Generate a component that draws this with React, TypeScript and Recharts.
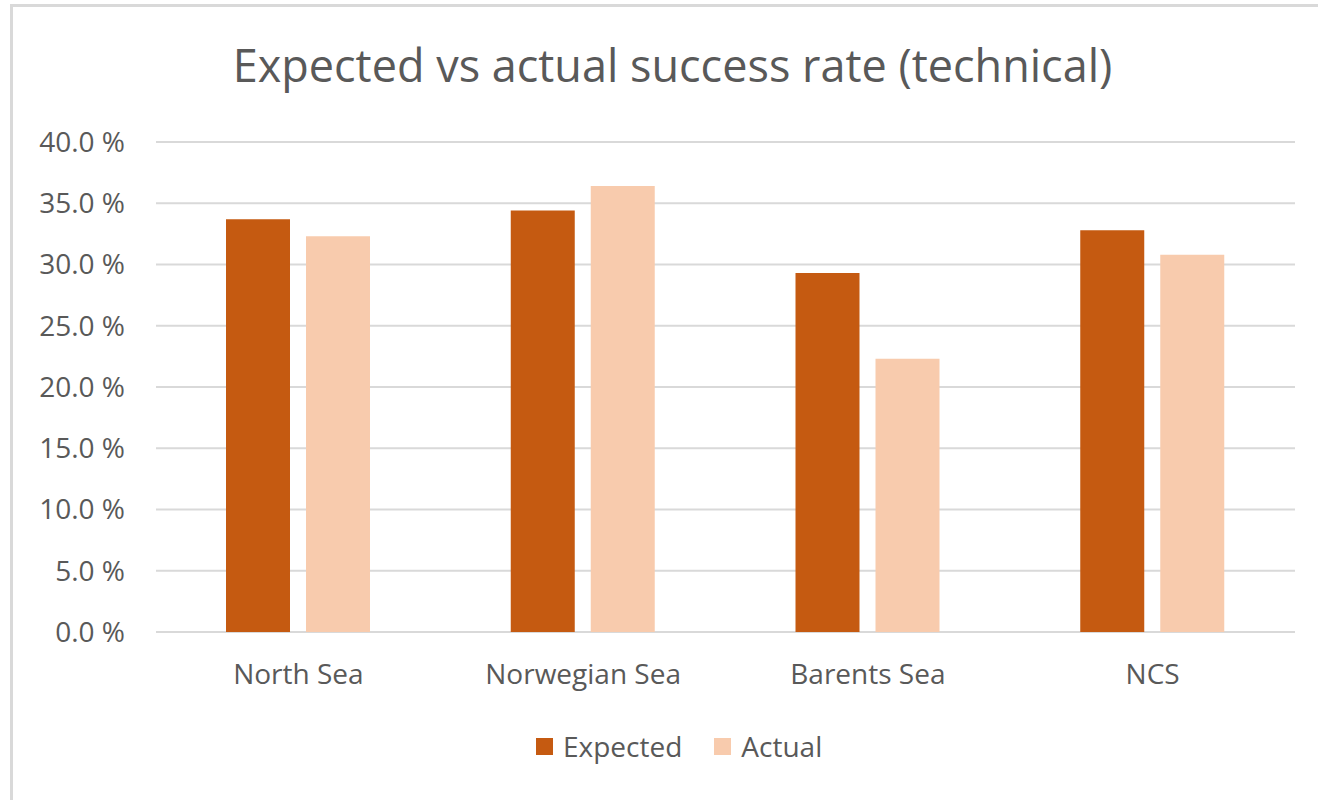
import { Bar, BarChart, CartesianGrid, Legend, XAxis, YAxis } from "recharts"

const categories = ["North Sea", "Norwegian Sea", "Barents Sea", "NCS"]
const expected = [33.7, 34.4, 29.3, 32.8]
const actual = [32.3, 36.4, 22.3, 30.8]
const yTicks = [0, 5, 10, 15, 20, 25, 30, 35, 40]

const EXPECTED_COLOR = "#C55A11"
const ACTUAL_COLOR = "#F8CBAD"
const TEXT_COLOR = "#595959"
const FONT = "'Open Sans', sans-serif"

const data = categories.map((name, i) => ({ name, expected: expected[i], actual: actual[i] }))

function LegendContent() {
  const items = [
    { label: "Expected", color: EXPECTED_COLOR },
    { label: "Actual", color: ACTUAL_COLOR },
  ]
  return (
    <div style={{ display: "flex", alignItems: "center", gap: 32, fontFamily: FONT, fontSize: 28, color: TEXT_COLOR }}>
      {items.map((it) => (
        <div key={it.label} style={{ display: "flex", alignItems: "center", gap: 10 }}>
          <span style={{ display: "inline-block", width: 17, height: 17, background: it.color }} />
          <span style={{ lineHeight: "36px" }}>{it.label}</span>
        </div>
      ))}
    </div>
  )
}

export default function App() {
  return (
    <div
      style={{
        position: "absolute",
        left: 0,
        top: 0,
        width: 1318,
        height: 800,
        overflow: "hidden",
        background: "#fff",
        fontFamily: FONT,
      }}
    >
      <div
        style={{
          position: "absolute",
          left: 10,
          top: 4,
          width: 1330,
          height: 810,
          border: "3px solid #d9d9d9",
          boxSizing: "border-box",
        }}
      />
      <div
        style={{
          position: "absolute",
          left: 0,
          top: 42,
          width: 1345,
          textAlign: "center",
          fontSize: 45,
          lineHeight: "45px",
          color: TEXT_COLOR,
        }}
      >
        Expected vs actual success rate (technical)
      </div>
      <div style={{ position: "absolute", left: 0, top: 0 }}>
        <BarChart
          width={1318}
          height={800}
          data={data}
          margin={{ top: 142, right: 23, left: 26, bottom: 108 }}
          barSize={64}
          barGap={16}
        >
          <CartesianGrid horizontal vertical={false} stroke="#d9d9d9" strokeWidth={2} />
          <XAxis
            dataKey="name"
            axisLine={false}
            tickLine={false}
            tickSize={0}
            tickMargin={32}
            height={60}
            interval={0}
            tick={{ fill: TEXT_COLOR, fontSize: 28, fontFamily: FONT }}
          />
          <YAxis
            domain={[0, 40]}
            ticks={yTicks}
            axisLine={false}
            tickLine={false}
            tickSize={0}
            tickMargin={31}
            width={130}
            tick={{ fill: TEXT_COLOR, fontSize: 28, fontFamily: FONT }}
            tickFormatter={(v: number) => `${v.toFixed(1)} %`}
          />
          <Legend
            layout="horizontal"
            verticalAlign="middle"
            align="center"
            wrapperStyle={{ top: 728, left: 536, width: "auto" }}
            content={<LegendContent />}
          />
          <Bar dataKey="expected" name="Expected" fill={EXPECTED_COLOR} isAnimationActive={false} />
          <Bar dataKey="actual" name="Actual" fill={ACTUAL_COLOR} isAnimationActive={false} />
        </BarChart>
      </div>
    </div>
  )
}
